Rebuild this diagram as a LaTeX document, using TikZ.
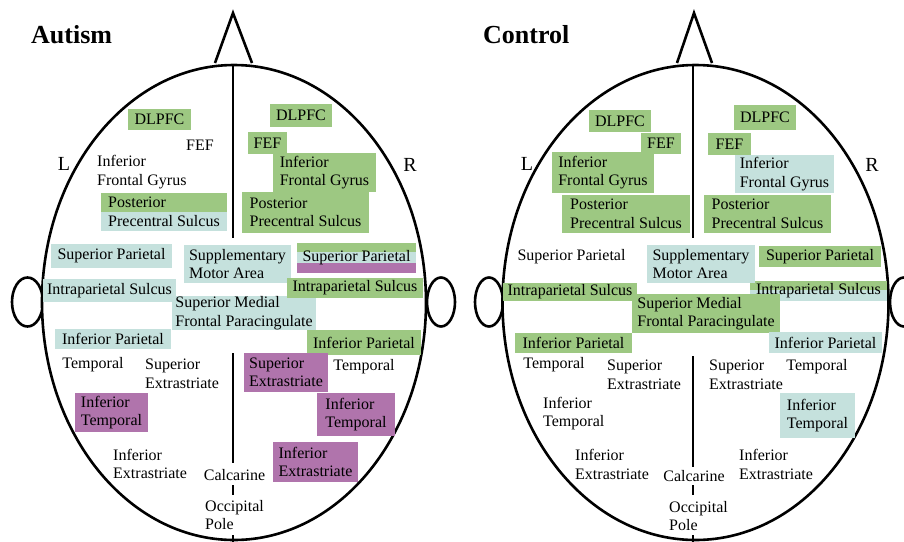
\documentclass[tikz,border=0pt]{standalone}
\usepackage{fontspec}
\setmainfont{Liberation Serif}
\usetikzlibrary{backgrounds}
\definecolor{gfill}{RGB}{157,200,130}
\definecolor{bfill}{RGB}{197,225,221}
\definecolor{pfill}{RGB}{176,116,172}
\tikzset{
  lab/.style={font=\fontsize{16}{18.5}\selectfont, align=left, inner sep=0pt},
  side/.style={font=\fontsize{20}{24}\selectfont, inner sep=0pt},
  ttl/.style={font=\fontsize{26}{30}\selectfont\bfseries, inner sep=0pt, anchor=west},
  sz/.style 2 args={minimum width=#1pt, minimum height=#2pt},
  outline/.style={line width=2.6pt, draw=black},
}
\begin{document}
\begin{tikzpicture}[x=1pt,y=-1pt]
\useasboundingbox (0,0) rectangle (904,541);
\clip (0,0) rectangle (904,541);

\begin{scope}[on background layer]
% Autism head
\draw[outline] (27.5,302) ellipse [x radius=15.5pt, y radius=24.5pt];
\draw[outline] (441,302) ellipse [x radius=14pt, y radius=24.5pt];
\draw[outline, fill=white] (234,302.5) ellipse [x radius=192pt, y radius=237.5pt];
\draw[outline, fill=white, line join=miter] (215,63) -- (233,13) -- (252,63);
\draw[outline] (233,65) -- (233,238);
\draw[outline] (233,353) -- (233,463);
\draw[outline] (233,485) -- (233,495);
\draw[outline] (233,535) -- (233,545);
% Control head
\draw[outline] (489,302) ellipse [x radius=14pt, y radius=24.5pt];
\draw[outline] (904,302) ellipse [x radius=14pt, y radius=24.5pt];
\draw[outline, fill=white] (695.5,302.5) ellipse [x radius=193pt, y radius=237.5pt];
\draw[outline, fill=white, line join=miter] (677,63) -- (694,13) -- (712,63);
\draw[outline] (693,65) -- (693,238);
\draw[outline] (693,356) -- (693,467);
\draw[outline] (693,485) -- (693,495);
\draw[outline] (693,535) -- (693,545);
\end{scope}

% ---------- Autism ----------
\node[ttl] (atitle) at (31,35) {Autism};
\node[side] (aL) at (64,164) {L};
\node[side] (aR) at (410,165) {R};
\node[lab, fill=gfill, sz={63}{21}] (aDLl) at (159.5,119.5) {DLPFC};
\node[lab] (aFEFl) at (200,145) {FEF};
\node[lab, anchor=west] (aIFGl) at (97,172) {Inferior\\Frontal Gyrus};
\node[lab, sz={126}{38}] (aPPSl) at (164,212) {Posterior\\Precentral Sulcus};
\node[lab, fill=bfill, sz={121}{24}] (aSPl) at (111.5,256) {Superior Parietal};
\node[lab, fill=bfill, sz={107}{38}] (aSMA) at (237.5,264) {Supplementary\\Motor Area};
\node[lab, fill=bfill, sz={133}{23}] (aIPSl) at (109.5,290.5) {Intraparietal Sulcus};
\node[lab, fill=bfill, sz={144}{34}] (aSMF) at (244,313) {Superior Medial\\Frontal Paracingulate};
\node[lab, fill=bfill, sz={116}{20}] (aIPl) at (113,339) {Inferior Parietal};
\node[lab] (aTl) at (93,365) {Temporal};
\node[lab, anchor=west] (aSEl) at (145,374) {Superior\\Extrastriate};
\node[lab, fill=pfill, sz={73}{39}] (aITl) at (111.5,412.5) {Inferior\\Temporal};
\node[lab, anchor=west] (aIEl) at (113,464) {Inferior\\Extrastriate};
\node[lab, fill=white] (aCal) at (234.5,475) {Calcarine};
\node[lab, anchor=west] (aOP) at (205,515) {Occipital\\Pole};
\node[lab, fill=gfill, sz={62}{23}] (aDLr) at (301,115.5) {DLPFC};
\node[lab, fill=gfill, sz={39}{22}] (aFEFr) at (267.5,143) {FEF};
\node[lab, fill=gfill, sz={103}{39}] (aIFGr) at (324.5,172.5) {Inferior\\Frontal Gyrus};
\node[lab, fill=gfill, sz={127}{41}] (aPPSr) at (305.5,212.5) {Posterior\\Precentral Sulcus};
\node[lab, sz={119}{30}] (aSPr) at (356.5,258) {Superior Parietal};
\node[lab, fill=gfill, sz={136}{20}] (aIPSr) at (355,288) {Intraparietal Sulcus};
\node[lab, fill=gfill, sz={114}{25}] (aIPr) at (364,342.5) {Inferior Parietal};
\node[lab, fill=pfill, sz={84}{39}] (aSEr) at (286,372.5) {Superior\\Extrastriate};
\node[lab] (aTr) at (364,367) {Temporal};
\node[lab, fill=pfill, sz={78}{43}] (aITr) at (356,414.5) {Inferior\\Temporal};
\node[lab, fill=pfill, sz={85}{40}] (aIEr) at (315.5,462) {Inferior\\Extrastriate};

% ---------- Control ----------
\node[ttl] (ctitle) at (483,35) {Control};
\node[side] (cL) at (527,164) {L};
\node[side] (cR) at (872,165) {R};
\node[lab, fill=gfill, sz={62}{22}] (cDLl) at (620,121) {DLPFC};
\node[lab, fill=gfill, sz={40}{21}] (cFEFl) at (661,143.5) {FEF};
\node[lab, fill=gfill, sz={102}{41}] (cIFGl) at (603,172.5) {Inferior\\Frontal Gyrus};
\node[lab, fill=gfill, sz={128}{38}] (cPPSl) at (626,214) {Posterior\\Precentral Sulcus};
\node[lab] (cSPl) at (571.5,257) {Superior Parietal};
\node[lab, fill=bfill, sz={108}{38}] (cSMA) at (701,264) {Supplementary\\Motor Area};
\node[lab, fill=gfill, sz={134}{18}] (cIPSl) at (570,292) {Intraparietal Sulcus};
\node[lab, fill=gfill, sz={148}{39}] (cSMF) at (706,313.5) {Superior Medial\\Frontal Paracingulate};
\node[lab, fill=gfill, sz={117}{20}] (cIPl) at (573.5,343) {Inferior Parietal};
\node[lab] (cTl) at (554,365) {Temporal};
\node[lab, anchor=west] (cSEl) at (607,375) {Superior\\Extrastriate};
\node[lab, anchor=west] (cITl) at (543,413.5) {Inferior\\Temporal};
\node[lab, anchor=west] (cIEl) at (575,464.5) {Inferior\\Extrastriate};
\node[lab, fill=white] (cCal) at (694,476) {Calcarine};
\node[lab, anchor=west] (cOP) at (669,516) {Occipital\\Pole};
\node[lab, fill=gfill, sz={62}{25}] (cDLr) at (765,117.5) {DLPFC};
\node[lab, fill=gfill, sz={43}{22}] (cFEFr) at (729.5,144) {FEF};
\node[lab, fill=bfill, sz={99}{38}] (cIFGr) at (784.5,174) {Inferior\\Frontal Gyrus};
\node[lab, fill=gfill, sz={127}{38}] (cPPSr) at (767.5,214) {Posterior\\Precentral Sulcus};
\node[lab, fill=gfill, sz={122}{21}] (cSPr) at (820,256.5) {Superior Parietal};
\node[lab, sz={137}{20}] (cIPSr) at (818.5,291) {Intraparietal Sulcus};
\node[lab, fill=bfill, sz={113}{21}] (cIPr) at (825.5,342.5) {Inferior Parietal};
\node[lab, anchor=west] (cSEr) at (709,375) {Superior\\Extrastriate};
\node[lab] (cTr) at (817,367) {Temporal};
\node[lab, fill=bfill, sz={75}{45}] (cITr) at (817.5,415.5) {Inferior\\Temporal};
\node[lab, anchor=west] (cIEr) at (739,464.5) {Inferior\\Extrastriate};

% multi-colour bands behind split boxes
\begin{scope}[on background layer]
\fill[gfill] (aPPSl.north west) rectangle (aPPSl.east);
\fill[bfill] (aPPSl.west) rectangle (aPPSl.south east);
\fill[gfill] (aSPr.north west) rectangle ([yshift=-9pt]aSPr.north east);
\fill[bfill] ([yshift=-9pt]aSPr.north west) rectangle ([yshift=10pt]aSPr.south east);
\fill[pfill] ([yshift=10pt]aSPr.south west) rectangle (aSPr.south east);
\fill[gfill] (cIPSr.north west) rectangle ([yshift=-9pt]cIPSr.north east);
\fill[bfill] ([yshift=-9pt]cIPSr.north west) rectangle (cIPSr.south east);
\end{scope}
\end{tikzpicture}
\end{document}
